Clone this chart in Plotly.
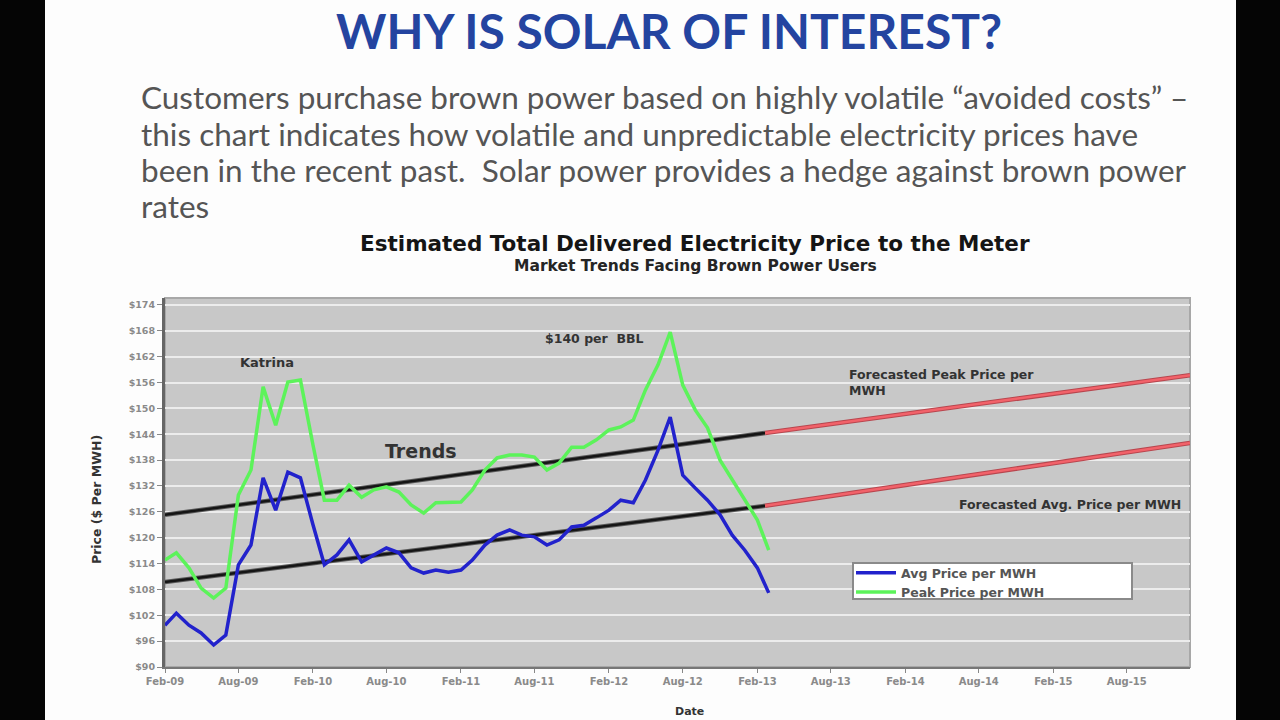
import plotly.graph_objects as go
import pandas as pd

# ---------------- data ----------------
avg_price = [99.7, 102.5, 99.7, 97.9, 95.1, 97.4, 113.7, 118.3, 133.9, 126.4,
             135.2, 133.9, 123.0, 113.7, 116.0, 119.5, 114.4, 116.0, 117.6, 116.5,
             113.0, 111.8, 112.5, 112.0, 112.5, 114.8, 118.3, 120.6, 121.8, 120.6,
             120.2, 118.3, 119.5, 122.5, 122.9, 124.6, 126.4, 128.7, 128.1, 133.4,
             140.3, 148.0, 134.5, 131.5, 128.7, 125.3, 120.6, 117.1, 113.0, 107.2]
peak_price = [114.8, 116.5, 113.0, 108.3, 106.0, 108.3, 129.9, 135.7, 155.0, 146.1,
              156.1, 156.6, 141.5, 128.7, 128.7, 132.2, 129.4, 131.1, 131.8, 130.6,
              127.6, 125.7, 128.1, 128.1, 128.3, 131.1, 135.7, 138.5, 139.2, 139.2,
              138.7, 135.7, 137.3, 141.0, 141.0, 142.7, 145.0, 145.7, 147.3, 154.3,
              160.1, 167.7, 155.4, 149.6, 145.5, 138.0, 133.4, 128.7, 124.1, 117.1]
months = pd.date_range("2009-02-01", periods=len(avg_price), freq="MS")

trend_dates = ["2009-02-01", "2013-02-20"]
forecast_dates = ["2013-02-20", "2016-01-04"]
peak_trend = [125.3, 144.3]
peak_forecast = [144.3, 157.7]
avg_trend = [109.7, 127.4]
avg_forecast = [127.4, 142.0]

tick_labels = ["Feb-09", "Aug-09", "Feb-10", "Aug-10", "Feb-11", "Aug-11", "Feb-12",
               "Aug-12", "Feb-13", "Aug-13", "Feb-14", "Aug-14", "Feb-15", "Aug-15"]
tick_dates = pd.date_range("2009-02-01", periods=len(tick_labels), freq="6MS")
y_ticks = list(range(90, 175, 6))
y_tick_labels = ["$%d" % v for v in y_ticks]

# ---------------- layout helpers ----------------
L, R, T, B = 165, 1190, 298, 667
W, H = R - L, B - T


def fx(x):
    return (x - L) / W


def fy(y):
    return (B - y) / H


CH = "DejaVu Sans"

fig = go.Figure()

# trend lines (black) and forecasts (red)
for xs, ys in [(trend_dates, peak_trend), (trend_dates, avg_trend)]:
    fig.add_trace(go.Scatter(x=xs, y=ys, mode="lines", showlegend=False,
                             line=dict(color="#5a5a5a", width=4.5), hoverinfo="skip"))
    fig.add_trace(go.Scatter(x=xs, y=ys, mode="lines", showlegend=False,
                             line=dict(color="#151515", width=2.5), hoverinfo="skip"))
for xs, ys in [(forecast_dates, peak_forecast), (forecast_dates, avg_forecast)]:
    fig.add_trace(go.Scatter(x=xs, y=ys, mode="lines", showlegend=False,
                             line=dict(color="#b8464e", width=4.5), hoverinfo="skip"))
    fig.add_trace(go.Scatter(x=xs, y=ys, mode="lines", showlegend=False,
                             line=dict(color="#f2626a", width=2.5), hoverinfo="skip"))

fig.add_trace(go.Scatter(x=months, y=peak_price, mode="lines", name="Peak Price per MWH",
                         line=dict(color="#5cf35a", width=3.5)))
fig.add_trace(go.Scatter(x=months, y=avg_price, mode="lines", name="Avg Price per MWH",
                         line=dict(color="#2222cc", width=3.5)))

shapes = [
    # black side bars of the slide frame
    dict(type="rect", xref="paper", yref="paper", x0=fx(0), x1=fx(45), y0=fy(720), y1=fy(0),
         fillcolor="#050505", line=dict(width=0), layer="above"),
    dict(type="rect", xref="paper", yref="paper", x0=fx(1236), x1=fx(1280), y0=fy(720), y1=fy(0),
         fillcolor="#050505", line=dict(width=0), layer="above"),
    # plot frame (top / right)
    dict(type="rect", xref="paper", yref="paper", x0=0, x1=1, y0=0, y1=1,
         fillcolor="rgba(0,0,0,0)", line=dict(color="#a8a8a8", width=2), layer="below"),
    # legend box
    dict(type="rect", xref="paper", yref="paper", x0=fx(853), x1=fx(1132), y0=fy(599), y1=fy(563),
         fillcolor="#ffffff", line=dict(color="#8a8a8a", width=2), layer="above"),
]

ann = []


def text(x, y, s, size, color="#222222", family=CH, weight="bold", xanchor="center", **kw):
    ann.append(dict(xref="paper", yref="paper", x=fx(x), y=fy(y), text=s,
                    showarrow=False, xanchor=xanchor, yanchor="middle",
                    font=dict(size=size, color=color, family=family, weight=weight), **kw))


text(669, 30, "WHY IS SOLAR OF INTEREST?", 48, color="#2444a0", family="Lato")
body = ["Customers purchase brown power based on highly volatile “avoided costs” –",
        "this chart indicates how volatile and unpredictable electricity prices have",
        "been in the recent past.  Solar power provides a hedge against brown power",
        "rates"]
for i, line in enumerate(body):
    text(139, 97 + i * 36.5, line, 31.5, color="#555555", family="Lato", weight="normal",
         xanchor="left")

text(695, 243, "Estimated Total Delivered Electricity Price to the Meter", 21.5, color="#151515")
text(695, 266, "Market Trends Facing Brown Power Users", 15.5, color="#252525")

text(267, 362, "Katrina", 13, color="#333333")
text(594, 338, "$140 per  BBL", 12.5, color="#333333")
text(421, 451, "Trends", 19, color="#333333")
text(847, 382, "Forecasted Peak Price per<br>MWH", 12.5, color="#333333", xanchor="left",
     align="left")
text(1183, 504, "Forecasted Avg. Price per MWH", 12.5, color="#333333", xanchor="right")
text(96, 500, "Price ($ Per MWH)", 12.5, color="#333333", textangle=-90)
text(689, 711, "Date", 11, color="#333333")

fig.update_layout(
    width=1280, height=720,
    margin=dict(l=L, r=1280 - R, t=T, b=720 - B),
    paper_bgcolor="#fdfdfd", plot_bgcolor="#c8c8c8",
    shapes=shapes, annotations=ann,
    legend=dict(x=fx(851), y=fy(558), xanchor="left", yanchor="top", bgcolor="rgba(0,0,0,0)",
                borderwidth=0, font=dict(size=12.5, color="#555555", family=CH, weight="bold"),
                traceorder="reversed", itemwidth=40, tracegroupgap=0),
    xaxis=dict(range=["2009-02-01", "2016-01-04"], tickvals=tick_dates, ticktext=tick_labels,
               showgrid=False, zeroline=False, showline=True, linecolor="#777777", linewidth=2,
               ticks="outside", ticklen=4, tickcolor="#888888",
               tickfont=dict(size=10, color="#8a8a8a", family=CH, weight="bold")),
    yaxis=dict(range=[90, 90 + H / 4.31], tickvals=y_ticks, ticktext=y_tick_labels,
               showgrid=True, gridcolor="#ececec", gridwidth=2, zeroline=False,
               showline=True, linecolor="#666666", linewidth=3,
               ticks="outside", ticklen=5, tickcolor="#888888",
               tickfont=dict(size=9.5, color="#8a8a8a", family=CH, weight="bold")),
)

fig.write_html("out.html", config={"displayModeBar": False},
               post_script="document.body.style.margin='0';document.body.style.overflow='hidden';")
